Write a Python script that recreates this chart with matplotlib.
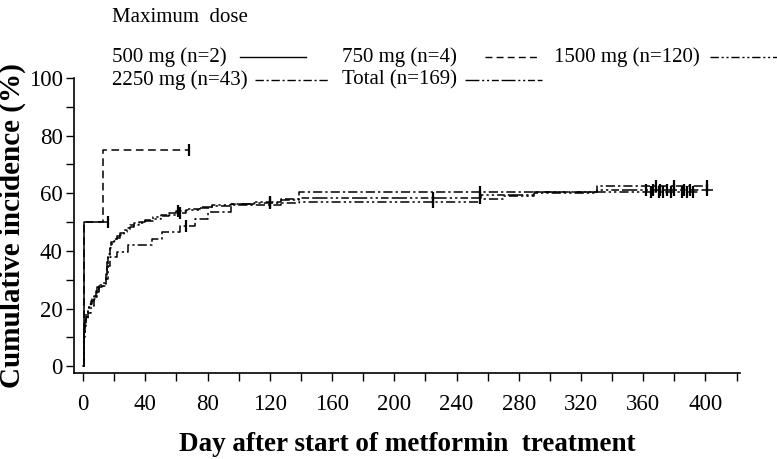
import numpy as np
import matplotlib
matplotlib.use('Agg')
import matplotlib.pyplot as plt
from matplotlib.lines import Line2D

plt.rcParams['font.family'] = ['Liberation Serif', 'DejaVu Serif']

# event times (day) and cumulative incidence (%) after each event
t500 = [0, 0.5]
v500 = [0, 50]
end500 = 16
cens500 = [16]

t750 = [0, 0.7, 13]
v750 = [0, 50, 75]
end750 = 68
cens750 = [68]

t1500 = [0, 0.5, 1, 1.5, 2, 3, 4, 5, 6, 7, 8, 9, 10, 12, 14, 15, 15.5, 16, 17, 18,
         20, 22, 24, 26, 28, 30, 33, 36, 40, 45, 50, 55, 60, 66, 75, 83, 95, 110,
         127, 139, 255, 270, 290, 330]
v1500 = [0, 11, 13, 15, 17, 19, 20.5, 21.5, 22.5, 23.5, 25, 26.5, 27.5, 28, 28.5, 31,
         35, 38, 41, 42.5, 43.5, 44.5, 45.5, 46.5, 47.3, 48.3, 49, 49.6, 50.3, 51.2,
         52, 52.6, 53.2, 54.2, 55, 55.7, 56.2, 56.5, 56.8, 57, 58, 59, 60, 60.3]
end1500 = 395
cens1500 = [62, 120, 225, 365, 370, 373, 378, 385, 388, 392]

t2250 = [0, 0.5, 1, 2, 3, 5, 7, 9, 10, 15, 16, 17, 22, 29, 44, 51, 62, 72, 80, 95,
         127, 139, 330]
v2250 = [0, 10, 14, 16.3, 18.6, 20.9, 23.3, 25.6, 27.9, 30.2, 34.9, 37.8, 39.5,
         41.9, 44.2, 46.5, 48.8, 51.2, 53.5, 55.8, 58.1, 60.4, 62.7]
end2250 = 401
cens2250 = [66, 255, 368, 380, 401]

tall = [0, 0.5, 1, 1.5, 2, 3, 4, 5, 6, 7, 8, 9, 10, 13, 15, 15.5, 16, 17, 18, 20,
        22, 24, 26, 28, 30, 33, 36, 40, 45, 50, 55, 60, 66, 75, 83, 95, 110, 127,
        139, 256, 290, 330]
vall = [0, 12.4, 14, 16, 18, 20, 21.5, 22.5, 23.5, 24.5, 26, 27.5, 28.3, 29, 32,
        36, 39, 41.5, 43, 44.2, 45.2, 46.2, 47.2, 48, 48.9, 49.6, 50.2, 50.9, 51.8,
        52.5, 53.1, 53.7, 54.6, 55.3, 55.9, 56.4, 57, 57.6, 58.5, 59.4, 60.6, 61.3]
endall = 405
censall = [61, 120, 225, 255, 362, 366, 371, 375, 380, 386, 390, 401]

styles = {
    '500': '-',
    '750': (0, (5, 3)),
    '1500': (0, (6, 2, 1.5, 2, 1.5, 2)),
    '2250': (0, (6, 2, 1.5, 2)),
    'all': (0, (10, 2, 1.5, 2, 1.5, 2, 5, 2)),
}

fig = plt.figure(figsize=(7.77, 4.59), dpi=100)
ax = fig.add_axes([0.095, 0.187, 0.857, 0.643])


def curve(t, v, end, cens, ls):
    tt = list(t) + [end]
    vv = list(v) + [v[-1]]
    ax.step(tt, vv, where='post', color='black', lw=1.1, linestyle=ls)
    idx = np.searchsorted(t, cens, side='right') - 1
    cv = np.array(v)[idx]
    ax.plot(cens, cv, linestyle='none', marker='|', color='black',
            markersize=9, markeredgewidth=1.6)


curve(t2250, v2250, end2250, cens2250, styles['2250'])
curve(t1500, v1500, end1500, cens1500, styles['1500'])
curve(tall, vall, endall, censall, styles['all'])
curve(t750, v750, end750, cens750, styles['750'])
curve(t500, v500, end500, cens500, styles['500'])

ax.set_xlim(-6, 422)
ax.set_ylim(-2.4, 100)
ax.set_xticks(np.arange(0, 401, 40))
ax.set_xticks(np.arange(0, 421, 20), minor=True)
ax.set_yticks(np.arange(0, 101, 20))
ax.set_yticks(np.arange(0, 101, 10), minor=True)
ax.spines['top'].set_visible(False)
ax.spines['right'].set_visible(False)
ax.spines['left'].set_linewidth(1.2)
ax.spines['bottom'].set_linewidth(1.2)
ax.tick_params(which='both', direction='out', length=6, width=1.0)
ax.tick_params(axis='both', labelsize=16.5)
ax.tick_params(axis='x', pad=9)
ax.tick_params(axis='y', pad=2)

ax.set_xlabel('Day after start of metformin  treatment', fontsize=19.5,
              fontweight='bold', labelpad=12)
ax.set_ylabel('Cumulative incidence (%)', fontsize=21, fontweight='bold',
              labelpad=2)

# legend drawn across the top
W, H = 777.0, 459.0
fs = 15
fig.text(112 / W, 1 - 18 / H, 'Maximum  dose', fontsize=fs, va='center')
entries = [
    ('500 mg (n=2)', 112, 57, 240, 306, styles['500']),
    ('750 mg (n=4)', 342, 57, 485, 538, styles['750']),
    ('1500 mg (n=120)', 554, 57, 710, 777, styles['1500']),
    ('2250 mg (n=43)', 112, 80, 255, 330, styles['2250']),
    ('Total (n=169)', 342, 80, 465, 542, styles['all']),
]
for label, tx, ty, x0, x1, ls in entries:
    fig.text(tx / W, 1 - ty / H, label, fontsize=fs, va='center')
    fig.add_artist(Line2D([x0 / W, x1 / W], [1 - ty / H, 1 - ty / H],
                          color='black', lw=1.0, linestyle=ls,
                          transform=fig.transFigure))

fig.savefig('out.png', dpi=100)
